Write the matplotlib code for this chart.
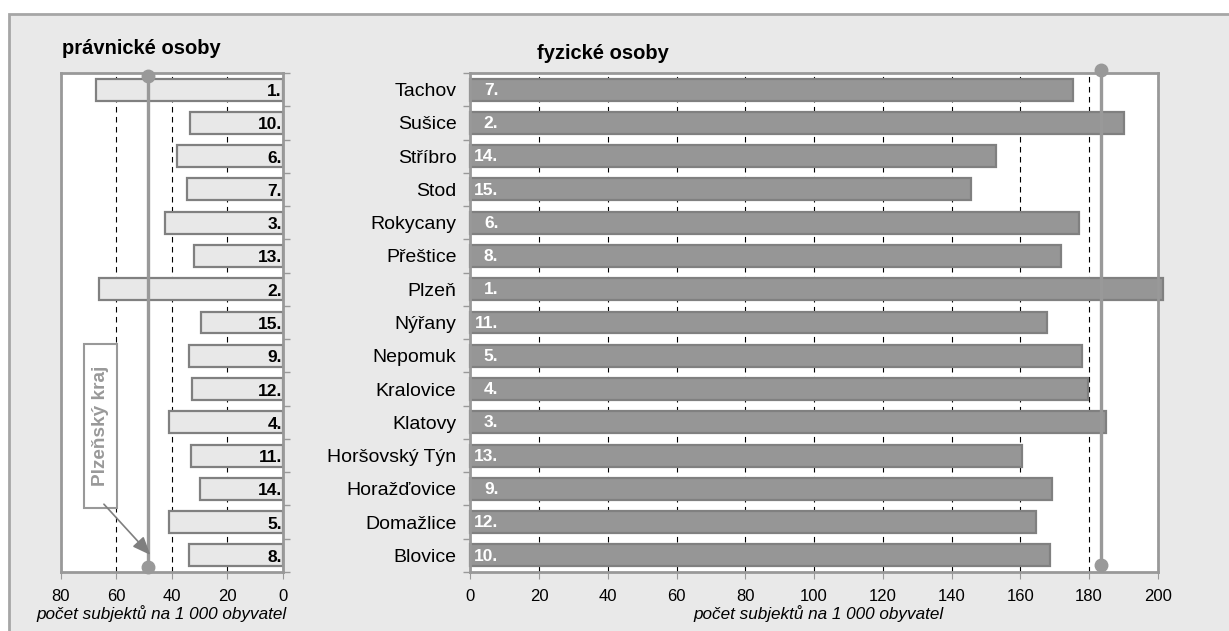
import numpy as np
import matplotlib
matplotlib.use('Agg')
import matplotlib.pyplot as plt
from matplotlib.patches import Rectangle

plt.rcParams['font.family'] = ['Liberation Sans', 'DejaVu Sans']

# data
okresy = ['Tachov', 'Sušice', 'Stříbro', 'Stod', 'Rokycany', 'Přeštice', 'Plzeň',
          'Nýřany', 'Nepomuk', 'Kralovice', 'Klatovy', 'Horšovský Týn',
          'Horažďovice', 'Domažlice', 'Blovice']
pravnicke = [67.4, 33.4, 38.2, 34.4, 42.5, 32.0, 66.1, 29.4, 33.7, 32.7, 40.9, 32.9, 29.8, 40.9, 33.7]
pravnicke_poradi = ['1.', '10.', '6.', '7.', '3.', '13.', '2.', '15.', '9.', '12.', '4.', '11.', '14.', '5.', '8.']
fyzicke = [175.2, 190.2, 153.0, 145.7, 177.0, 171.8, 201.4, 167.8, 177.9, 179.8, 184.9, 160.6, 169.2, 164.6, 168.7]
fyzicke_poradi = ['7.', '2.', '14.', '15.', '6.', '8.', '1.', '11.', '5.', '4.', '3.', '13.', '9.', '12.', '10.']
kraj_pravnicke = 48.6
kraj_fyzicke = 183.4

W, H = 1229, 631
fig = plt.figure(figsize=(W / 100, H / 100), dpi=100)
fig.patch.set_facecolor('white')

# pozadi s ramem
fig.patches.append(Rectangle((9 / W, -0.05), 1.1, (H - 14) / H + 0.05, transform=fig.transFigure,
                             facecolor='#e9e9e9', edgecolor='#a6a6a6', linewidth=2, zorder=-10))

ax1 = fig.add_axes([60.7 / W, 59 / H, 222 / W, 499 / H])
ax2 = fig.add_axes([470.3 / W, 59 / H, 687.5 / W, 499 / H])

y = np.arange(len(okresy))
sedo = '#999999'
popis_x = 'počet subjektů na 1 000 obyvatel'

for ax, px in ((ax1, 0.455), (ax2, 0.507)):
    ax.set_facecolor('white')
    ax.set_axisbelow(True)
    ax.set_ylim(len(okresy) - 0.5, -0.5)
    for s in ax.spines.values():
        s.set_color(sedo)
        s.set_linewidth(2)
    ax.grid(axis='x', color='black', linestyle=(0, (5, 4)), linewidth=0.8)
    ax.tick_params(axis='x', which='major', length=5, color=sedo, labelsize=12, pad=7)
    ax.set_yticks(np.arange(len(okresy) + 1) - 0.5, minor=True)
    ax.tick_params(axis='y', which='minor', length=5, color=sedo, width=1)
    ax.text(px, -0.083, popis_x, transform=ax.transAxes, ha='center', va='center',
            fontsize=12.3, style='italic')

# pravnicke osoby
ax1.barh(y, pravnicke, height=0.66, color='#e8e8e8', edgecolor='#808080', linewidth=1.6, clip_on=False)
ax1.set_xlim(80, 0)
ax1.set_xticks([80, 60, 40, 20, 0])
ax1.set_yticks(y)
ax1.yaxis.tick_right()
ax1.tick_params(axis='y', which='major', length=0, labelright=False)
ax1.tick_params(axis='y', which='minor', right=True, left=False)
for i, t in enumerate(pravnicke_poradi):
    ax1.text(0.3, i + 0.06, t, ha='right', va='center', fontsize=12.5, fontweight='bold', color='black')
ax1.plot([kraj_pravnicke, kraj_pravnicke], [-0.42, 14.35], color=sedo, linewidth=2.4,
         marker='o', markersize=9, clip_on=False, zorder=5)
ax1.text(0.005, 1.05, 'právnické osoby', transform=ax1.transAxes, fontsize=14.5, fontweight='bold',
         ha='left', va='center')

# Plzensky kraj - popisek
ax1.add_patch(Rectangle((59.7, 7.65), 11.9, 4.92, facecolor='white', edgecolor=sedo,
                        linewidth=1.5, zorder=6))
ax1.text(65.7, 10.1, 'Plzeňský kraj', rotation=90, ha='center', va='center',
         fontsize=13.7, fontweight='bold', color=sedo, zorder=7)
ax1.annotate('', xy=(47.0, 14.05), xytext=(65.1, 12.4),
             arrowprops=dict(arrowstyle='-|>,head_length=1.1,head_width=0.45', color='#7f7f7f', lw=1.2),
             zorder=7)

# fyzicke osoby
ax2.barh(y, fyzicke, height=0.66, color='#969696', edgecolor='#808080', linewidth=1.6, clip_on=False)
ax2.set_xlim(0, 200)
ax2.set_xticks(np.arange(0, 201, 20))
ax2.set_yticks(y)
ax2.set_yticklabels(okresy, fontsize=14)
ax2.tick_params(axis='y', which='major', length=0, pad=10)
for i, t in enumerate(fyzicke_poradi):
    ax2.text(8.2, i + 0.02, t, ha='right', va='center', fontsize=12.5, fontweight='bold', color='white')
ax2.plot([kraj_fyzicke, kraj_fyzicke], [-0.58, 14.28], color=sedo, linewidth=2.4,
         marker='o', markersize=9, clip_on=False, zorder=5)
ax2.text(0.097, 1.039, 'fyzické osoby', transform=ax2.transAxes, fontsize=14.5, fontweight='bold',
         ha='left', va='center')

fig.savefig('out.png', dpi=100)
